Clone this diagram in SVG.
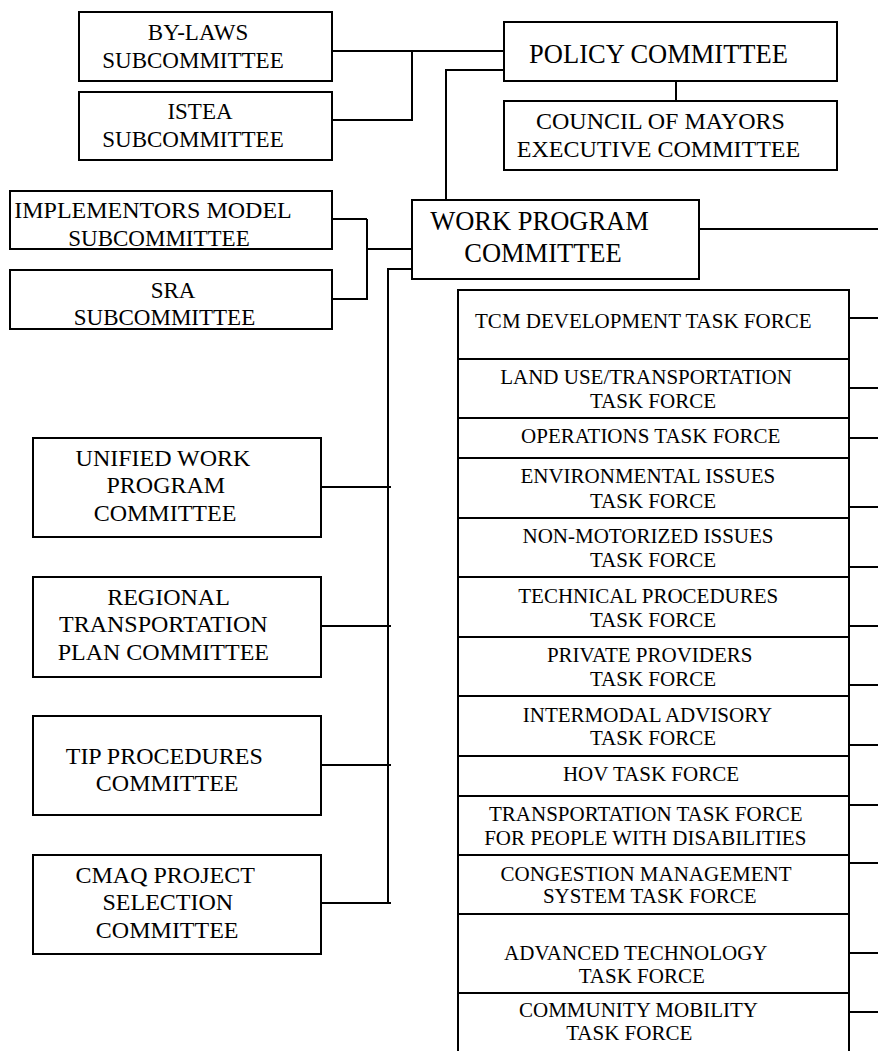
<svg xmlns="http://www.w3.org/2000/svg" width="878" height="1051" viewBox="0 0 878 1051" font-family="'Liberation Serif', 'Times New Roman', Times, 'DejaVu Serif', serif">
<style>
.box{fill:#fff;stroke:#000;stroke-width:2}
.ln{fill:none;stroke:#000;stroke-width:2}
text{fill:#000;text-anchor:middle}
.s{font-size:23px}
.m{font-size:24px}
.l{font-size:26.5px}
.t{font-size:21px}
</style>
<g id="connectors">
<path class="ln" d="M332,51 H504 M412,51 V121 M332,120 H412"/>
<path class="ln" d="M504,70 H446 V200"/>
<path class="ln" d="M676,81 V101"/>
<path class="ln" d="M332,219 H367 M367,219 V300 M332,299 H367 M367,249 H413"/>
<path class="ln" d="M413,269 H388 V904"/>
<path class="ln" d="M321,487 H391 M321,626 H391 M321,765 H391 M321,903 H391"/>
<path class="ln" d="M699,229 H878"/>
<path class="ln" d="M849,318 H878 M849,388 H878 M849,438 H878 M849,507 H878 M849,567 H878 M849,626 H878 M849,685 H878 M849,745 H878 M849,805 H878 M849,863 H878 M849,953 H878 M849,1012 H878"/>
</g>
<g id="bylaws"><rect class="box" x="79" y="12" width="253" height="69"/><text class="s" x="198" y="40">BY-LAWS</text><text class="s" x="193" y="68">SUBCOMMITTEE</text></g>
<g id="istea"><rect class="box" x="79" y="92" width="253" height="68"/><text class="s" x="200" y="119">ISTEA</text><text class="s" x="193" y="147">SUBCOMMITTEE</text></g>
<g id="policy"><rect class="box" x="504" y="22" width="333" height="59"/><text class="l" x="658.5" y="63">POLICY COMMITTEE</text></g>
<g id="council"><rect class="box" x="504" y="101" width="333" height="69"/><text class="m" x="660.5" y="129">COUNCIL OF MAYORS</text><text class="m" x="658.5" y="157">EXECUTIVE COMMITTEE</text></g>
<g id="implementors"><rect class="box" x="10" y="191" width="322" height="58"/><text class="m" x="153" y="218">IMPLEMENTORS MODEL</text><text class="s" x="159" y="246">SUBCOMMITTEE</text></g>
<g id="sra"><rect class="box" x="10" y="270" width="322" height="59"/><text class="s" x="173" y="298">SRA</text><text class="s" x="164.5" y="325">SUBCOMMITTEE</text></g>
<g id="wpc"><rect class="box" x="412" y="200" width="287" height="79"/><text class="l" x="539.5" y="230">WORK PROGRAM</text><text class="l" x="543" y="262">COMMITTEE</text></g>
<g id="unified"><rect class="box" x="33" y="438" width="288" height="99"/><text class="m" x="163" y="466">UNIFIED WORK</text><text class="m" x="165.8" y="493">PROGRAM</text><text class="m" x="165" y="521">COMMITTEE</text></g>
<g id="regional"><rect class="box" x="33" y="577" width="288" height="100"/><text class="m" x="168.5" y="605">REGIONAL</text><text class="m" x="163.3" y="632">TRANSPORTATION</text><text class="m" x="163.3" y="660">PLAN COMMITTEE</text></g>
<g id="tip"><rect class="box" x="33" y="716" width="288" height="99"/><text class="m" x="164.3" y="764">TIP PROCEDURES</text><text class="m" x="167.2" y="791">COMMITTEE</text></g>
<g id="cmaq"><rect class="box" x="33" y="855" width="288" height="99"/><text class="m" x="165.2" y="883">CMAQ PROJECT</text><text class="m" x="167.8" y="910">SELECTION</text><text class="m" x="167.2" y="938">COMMITTEE</text></g>
<g id="tf-tcm"><rect class="box" x="458" y="290" width="391" height="69"/><text class="t" x="643.3" y="328">TCM DEVELOPMENT TASK FORCE</text></g>
<g id="tf-landuse"><rect class="box" x="458" y="359" width="391" height="59"/><text class="t" x="646" y="384">LAND USE/TRANSPORTATION</text><text class="t" x="653" y="408">TASK FORCE</text></g>
<g id="tf-operations"><rect class="box" x="458" y="418" width="391" height="40"/><text class="t" x="650.7" y="443">OPERATIONS TASK FORCE</text></g>
<g id="tf-environmental"><rect class="box" x="458" y="458" width="391" height="60"/><text class="t" x="647.8" y="483">ENVIRONMENTAL ISSUES</text><text class="t" x="653" y="508">TASK FORCE</text></g>
<g id="tf-nonmotorized"><rect class="box" x="458" y="518" width="391" height="59"/><text class="t" x="648" y="543">NON-MOTORIZED ISSUES</text><text class="t" x="653" y="567">TASK FORCE</text></g>
<g id="tf-technical"><rect class="box" x="458" y="577" width="391" height="60"/><text class="t" x="648.3" y="603">TECHNICAL PROCEDURES</text><text class="t" x="653" y="627">TASK FORCE</text></g>
<g id="tf-private"><rect class="box" x="458" y="637" width="391" height="59"/><text class="t" x="649.7" y="662">PRIVATE PROVIDERS</text><text class="t" x="653" y="686">TASK FORCE</text></g>
<g id="tf-intermodal"><rect class="box" x="458" y="696" width="391" height="60"/><text class="t" x="647.5" y="722">INTERMODAL ADVISORY</text><text class="t" x="653" y="745">TASK FORCE</text></g>
<g id="tf-hov"><rect class="box" x="458" y="756" width="391" height="40"/><text class="t" x="651" y="781">HOV TASK FORCE</text></g>
<g id="tf-disabilities"><rect class="box" x="458" y="796" width="391" height="59"/><text class="t" x="645.8" y="821">TRANSPORTATION TASK FORCE</text><text class="t" x="645.3" y="845">FOR PEOPLE WITH DISABILITIES</text></g>
<g id="tf-congestion"><rect class="box" x="458" y="855" width="391" height="59"/><text class="t" x="646" y="881">CONGESTION MANAGEMENT</text><text class="t" x="649.8" y="903">SYSTEM TASK FORCE</text></g>
<g id="tf-advanced"><rect class="box" x="458" y="914" width="391" height="79"/><text class="t" x="635.8" y="960">ADVANCED TECHNOLOGY</text><text class="t" x="641.7" y="983">TASK FORCE</text></g>
<g id="tf-community"><rect class="box" x="458" y="993" width="391" height="70"/><text class="t" x="638.5" y="1017">COMMUNITY MOBILITY</text><text class="t" x="629.2" y="1040">TASK FORCE</text></g>
</svg>
